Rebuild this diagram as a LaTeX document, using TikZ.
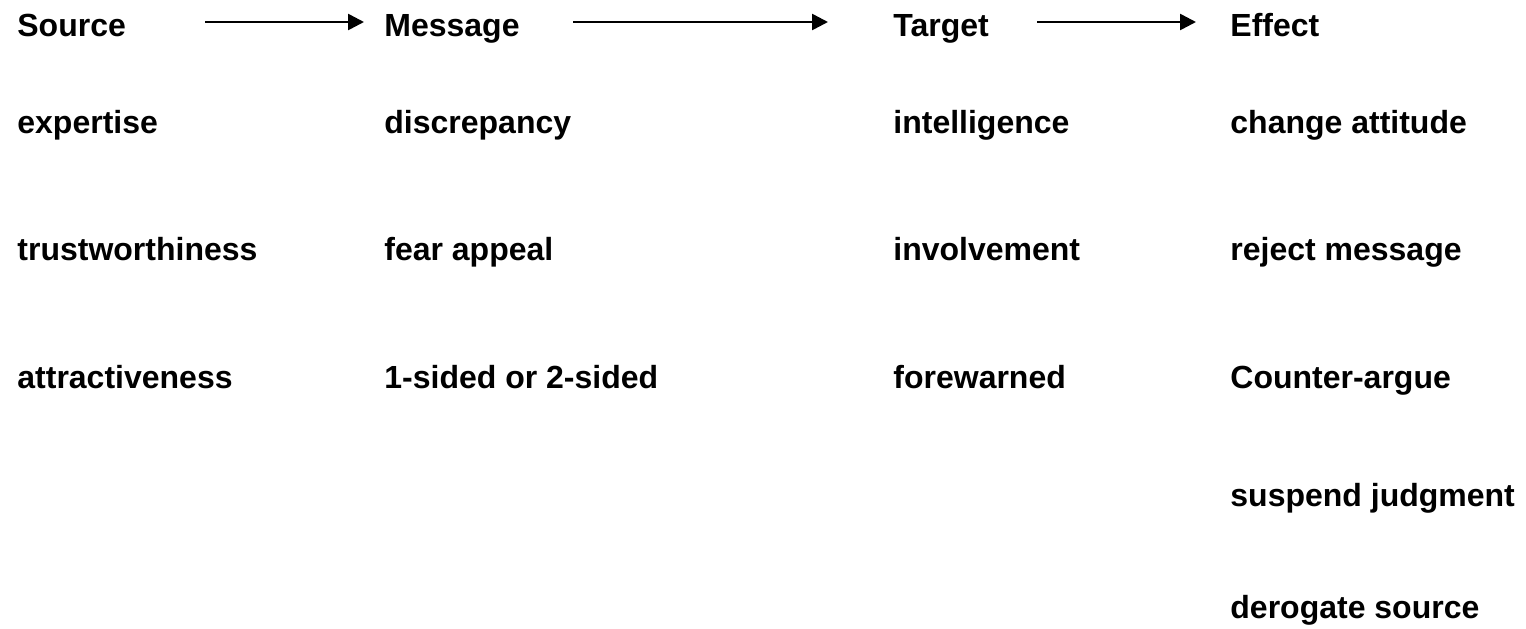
\documentclass[tikz,border=0pt]{standalone}
\usepackage{fontspec}
\setmainfont{Liberation Sans}
\usetikzlibrary{arrows.meta}
\begin{document}
\begin{tikzpicture}[x=0.5pt,y=-0.5pt,
  lbl/.style={anchor=base west,inner sep=0pt,font=\fontsize{16pt}{19pt}\selectfont\bfseries},
  flow/.style={line width=1.3pt,-{Triangle[length=8pt,width=8pt]}}]
\useasboundingbox (0,0) rectangle (1526,628);
% header
\node[lbl] (src) at (17,36) {Source};
\node[lbl] (msg) at (384,36) {Message};
\node[lbl] (tgt) at (893,36) {Target};
\node[lbl] (eff) at (1230,36) {Effect};
% source column
\node[lbl] (s1) at (17,133) {expertise};
\node[lbl] (s2) at (17,260) {trustworthiness};
\node[lbl] (s3) at (17,388) {attractiveness};
% message column
\node[lbl] (m1) at (384,133) {discrepancy};
\node[lbl] (m2) at (384,260) {fear appeal};
\node[lbl] (m3) at (384,388) {1-sided or 2-sided};
% target column
\node[lbl] (t1) at (893,133) {intelligence};
\node[lbl] (t2) at (893,260) {involvement};
\node[lbl] (t3) at (893,388) {forewarned};
% effect column
\node[lbl] (e1) at (1230,133) {change attitude};
\node[lbl] (e2) at (1230,260) {reject message};
\node[lbl] (e3) at (1230,388) {Counter-argue};
\node[lbl] (e4) at (1230,506) {suspend judgment};
\node[lbl] (e5) at (1230,618) {derogate source};
% arrows
\coordinate (a1s) at (205,22);
\coordinate (a1e) at (364,22);
\coordinate (a2s) at (573,22);
\coordinate (a2e) at (828,22);
\coordinate (a3s) at (1037,22);
\coordinate (a3e) at (1196,22);
\draw[flow] (a1s) -- (a1e);
\draw[flow] (a2s) -- (a2e);
\draw[flow] (a3s) -- (a3e);
\end{tikzpicture}
\end{document}
